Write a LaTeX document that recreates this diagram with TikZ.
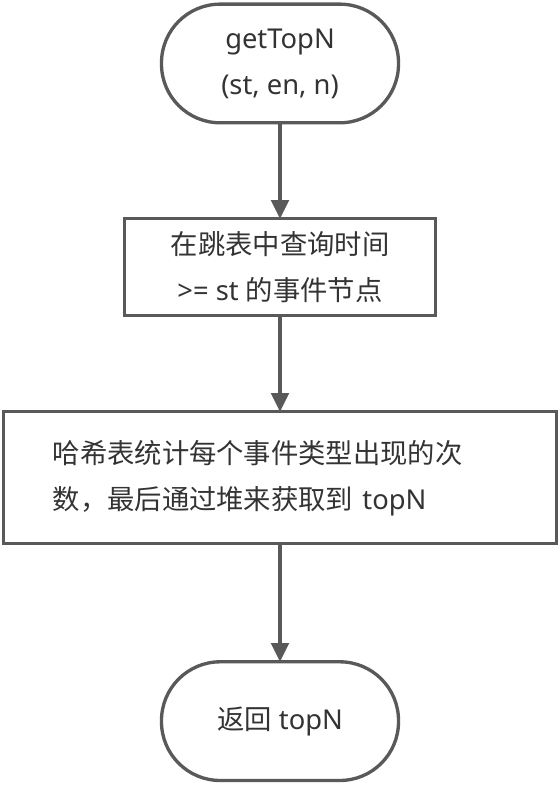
\documentclass[tikz,border=0pt]{standalone}
\usepackage{fontspec}
\setmainfont{Noto Sans}
\newfontfamily\cjk{Noto Sans CJK SC}
\usetikzlibrary{positioning,arrows.meta}
\definecolor{edgegray}{HTML}{595959}
\definecolor{textgray}{HTML}{333333}
\tikzstyle{line} = [draw=edgegray, line width=3pt, -{Triangle[width=13pt,length=14pt]}]

\begin{document}
\begin{tikzpicture}[
	node distance=72pt,
	every node/.style={font=\fontsize{20.5pt}{34.5pt}\selectfont, text=textgray},
	terminal/.style={
		rectangle,
		rounded corners=44pt,
		minimum width=177.75pt,
		minimum height=89pt,
		line width=2.5pt,
		draw=edgegray,
		outer sep=0pt,
		align=center,
	},
	process/.style={
		rectangle,
		line width=2.5pt,
		draw=edgegray,
		outer sep=0pt,
	}
]
	\useasboundingbox (0,0) rectangle (420pt,-589.5pt);
	\node (start) [terminal] at (210pt,-47.6pt)
		{getTopN \\(st, en, n)};
	\node (query) [process,minimum width=233.25pt,minimum height=72.75pt,align=center,below=of start]
		{{\cjk 在跳表中查询时间} \\>= st {\cjk 的事件节点}};
	\node (count) [process,minimum width=414.75pt,minimum height=99pt,text width=341pt,inner xsep=36.75pt,align=left,below=of query]
		{{\cjk 哈希表统计每个事件类型出现的次} \\{\cjk 数，最后通过堆来获取到} topN};
	\node (result) [terminal,below=88.5pt of count]
		{{\cjk 返回} topN};

	\draw [line] (start) -- (query);
	\draw [line] (query) -- (count);
	\draw [line] (count) -- (result);

\end{tikzpicture}
\end{document}
